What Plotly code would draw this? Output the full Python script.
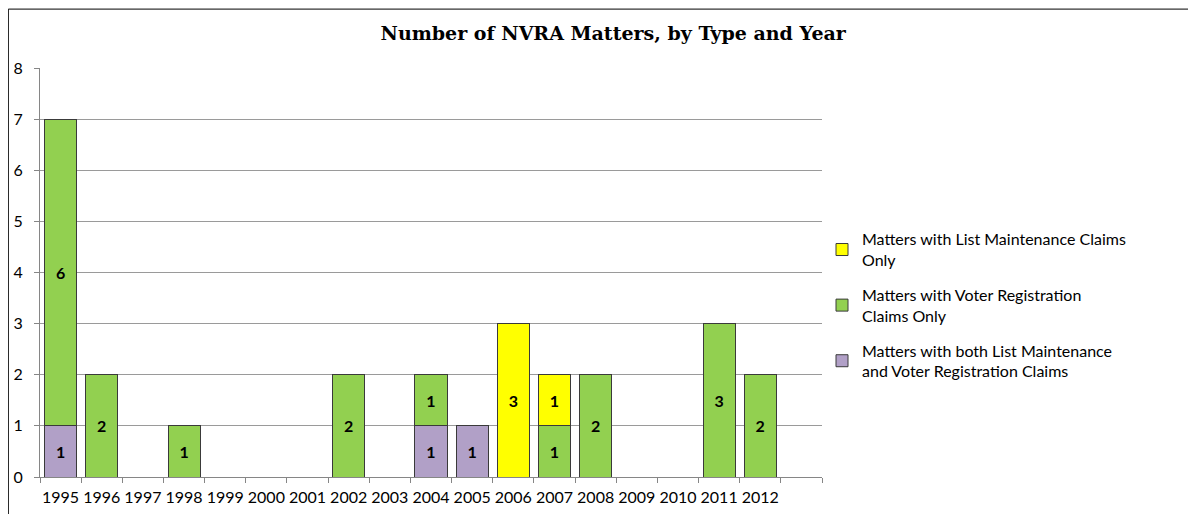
import plotly.graph_objects as go

years = ["1995", "1996", "1997", "1998", "1999", "2000", "2001", "2002", "2003",
         "2004", "2005", "2006", "2007", "2008", "2009", "2010", "2011", "2012", " "]

both_claims = [1, None, None, None, None, None, None, None, None,
               1, 1, None, None, None, None, None, None, None, None]
voter_only = [6, 2, None, 1, None, None, None, 2, None,
              1, None, None, 1, 2, None, None, 3, 2, None]
list_only = [None, None, None, None, None, None, None, None, None,
             None, None, 3, 1, None, None, None, None, None, None]

names = [
    "Matters with both List Maintenance<br>and Voter Registration Claims",
    "Matters with Voter Registration<br>Claims Only",
    "Matters with List Maintenance Claims<br>Only",
]
colors = ["#B1A0C7", "#92D050", "#FFFF00"]

body_font = "Lato, Open Sans, sans-serif"

fig = go.Figure()
for i, (name, vals, col) in enumerate(zip(names, [both_claims, voter_only, list_only], colors)):
    fig.add_trace(go.Bar(
        x=years, y=vals, name=name, legendgroup=f"g{i}", legendrank=1000 - i,
        marker=dict(color=col, line=dict(color="#3a3a3a", width=1)),
        text=[str(v) if v else "" for v in vals],
        textposition="inside", insidetextanchor="middle",
        textangle=0,
        textfont=dict(family=body_font, size=16, color="black", weight="bold"),
    ))

# the page body adds an 8px offset, so margins are shifted by 8px
fig.update_layout(
    width=1196, height=514,
    barmode="stack", bargap=0.22,
    plot_bgcolor="white", paper_bgcolor="white",
    margin=dict(l=32, r=382, t=60, b=45, autoexpand=False),
    title=dict(text="<b>Number of NVRA Matters, by Type and Year</b>",
               x=0.506, xanchor="center", y=0.95, yanchor="middle",
               font=dict(family="DejaVu Serif", size=19, color="black")),
    legend=dict(traceorder="grouped", x=1.0, y=0.42, yanchor="middle",
                font=dict(family=body_font, size=16, color="black"),
                itemwidth=30, tracegroupgap=11),
    font=dict(family=body_font, size=14, color="black"),
    uniformtext=dict(mode="show", minsize=10),
    showlegend=True,
)
fig.update_xaxes(type="category", categoryorder="array", categoryarray=years,
                 showline=True, linecolor="#868686", linewidth=1,
                 ticks="outside", tickson="boundaries", ticklen=5, tickcolor="#868686",
                 showgrid=False, tickangle=0, automargin=False, ticklabelstandoff=6,
                 tickfont=dict(size=16))
fig.update_yaxes(range=[0, 8], dtick=1, showline=True, linecolor="#868686", linewidth=1,
                 ticks="outside", ticklen=5, tickcolor="#868686", automargin=False,
                 showgrid=True, gridcolor="#9a9a9a", gridwidth=1, zeroline=False,
                 ticklabelstandoff=8, tickfont=dict(size=16))

fig.add_shape(type="rect", xref="paper", yref="paper",
              x0=-0.0405, x1=1.473, y0=-0.12, y1=1.144,
              line=dict(color="black", width=1), fillcolor="rgba(0,0,0,0)")

fig.write_html("out.html")
